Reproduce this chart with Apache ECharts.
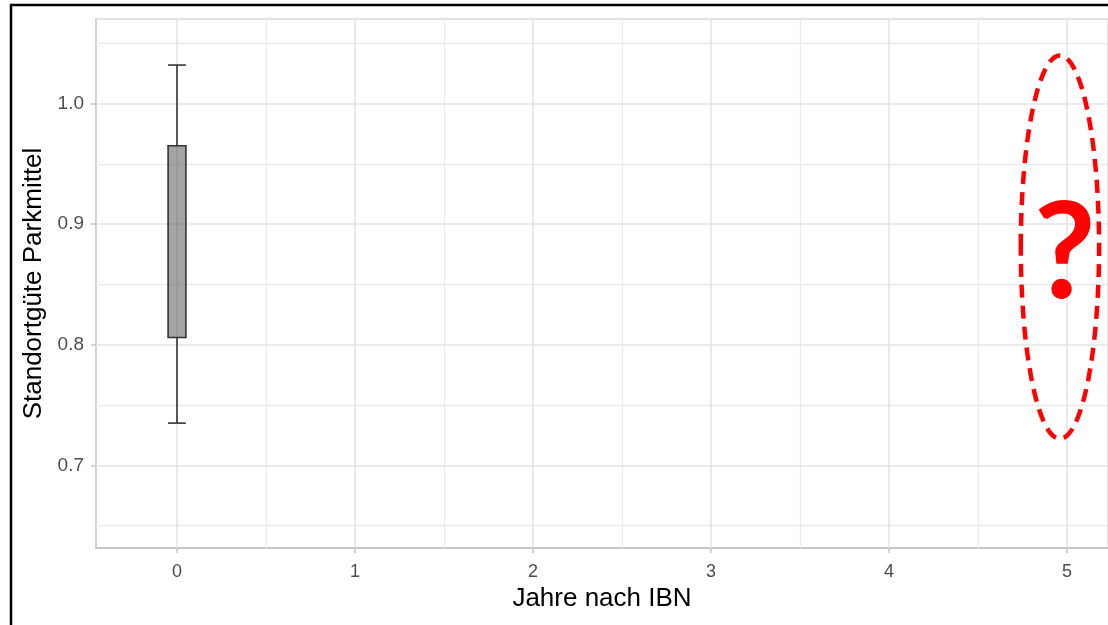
<!DOCTYPE html>
<html>
<head>
<meta charset="utf-8">
<script src="https://cdn.jsdelivr.net/npm/echarts@6.0.0/dist/echarts.min.js"></script>
<style>
  html, body { margin: 0; padding: 0; background: #fff; }
  #main { width: 1108px; height: 625px; }
</style>
</head>
<body>
<div id="main"></div>
<script>
// ticks and grid lines
var xTicks = [0, 1, 2, 3, 4, 5];
var xMinor = [0.5, 1.5, 2.5, 3.5, 4.5];
var yTicks = [0.7, 0.8, 0.9, 1.0];
var yMinor = [0.65, 0.75, 0.85, 0.95, 1.05];

// boxplot for year 0
var years = [0];
var whiskerLow = [0.735];
var q1 = [0.806];
var q3 = [0.965];
var whiskerHigh = [1.032];

// the "?" marker for year 5 (top of the text box, top and bottom of the ring)
var askYear = [4.96];
var askTextTop = [0.9306];
var askTop = [1.04];
var askBottom = [0.722];

var boxData = years.map(function (y, i) {
  return [y, whiskerLow[i], q1[i], q3[i], whiskerHigh[i]];
});
var askData = askYear.map(function (y, i) {
  return [y, askTextTop[i], askTop[i], askBottom[i]];
});

var gridColor = '#e4e4e4';
var minorColor = '#ebebeb';
var font = '"Liberation Sans", Arial, sans-serif';

function gridLines(vals, key, color, width) {
  return vals.map(function (v) {
    var o = { lineStyle: { color: color, width: width, type: 'solid' } };
    o[key] = v;
    return o;
  });
}

var myChart = echarts.init(document.getElementById('main'));
myChart.setOption({
  animation: false,
  backgroundColor: '#fff',
  grid: {
    left: 96, top: 19, right: 0, bottom: 77,
    show: true, borderColor: '#d9d9d9', borderWidth: 1.5
  },
  graphic: [{
    type: 'rect',
    shape: { x: 11, y: 5, width: 1200, height: 700 },
    style: { fill: 'none', stroke: '#000', lineWidth: 2.5 },
    z: 100
  }],
  xAxis: {
    type: 'value',
    min: -0.455,
    max: 5.23,
    name: 'Jahre nach IBN',
    nameLocation: 'middle',
    nameGap: 38,
    nameTextStyle: { fontFamily: font, fontSize: 26, color: '#000' },
    axisLine: { onZero: false, lineStyle: { color: '#c6c6c6', width: 2 } },
    axisTick: { show: true, length: 5, customValues: xTicks, lineStyle: { color: '#c6c6c6', width: 1.5 } },
    axisLabel: { customValues: xTicks, fontFamily: font, fontSize: 18, color: '#4d4d4d', margin: 15 },
    splitLine: { show: false }
  },
  yAxis: {
    type: 'value',
    min: 0.6314,
    max: 1.0702,
    name: 'Standortgüte Parkmittel',
    nameLocation: 'middle',
    nameRotate: 90,
    nameGap: 44,
    nameTextStyle: { fontFamily: font, fontSize: 26, color: '#000' },
    axisLine: { show: true, onZero: false, lineStyle: { color: '#cfcfcf', width: 1.5 } },
    axisTick: { show: true, length: 5, customValues: yTicks, lineStyle: { color: '#c6c6c6', width: 1.5 } },
    axisLabel: {
      customValues: yTicks, fontFamily: font, fontSize: 19, color: '#4d4d4d', margin: 12,
      formatter: function (v) { return v.toFixed(1); }
    },
    splitLine: { show: false }
  },
  series: [{
    type: 'custom',
    name: 'box',
    data: boxData,
    z: 5,
    markLine: {
      silent: true,
      symbol: 'none',
      label: { show: false },
      z: 1,
      data: []
        .concat(gridLines(yMinor, 'yAxis', minorColor, 1.3))
        .concat(gridLines(xMinor, 'xAxis', minorColor, 1.3))
        .concat(gridLines(yTicks, 'yAxis', gridColor, 1.6))
        .concat(gridLines(xTicks, 'xAxis', gridColor, 1.6))
    },
    renderItem: function (params, api) {
      var x = api.value(0);
      var half = api.size([0.1, 0])[0] / 2;
      var pLow = api.coord([x, api.value(1)]);
      var pQ1 = api.coord([x, api.value(2)]);
      var pQ3 = api.coord([x, api.value(3)]);
      var pHigh = api.coord([x, api.value(4)]);
      var ls = { stroke: '#333', lineWidth: 1.6 };
      return {
        type: 'group',
        children: [
          { type: 'line', shape: { x1: pHigh[0], y1: pHigh[1], x2: pQ3[0], y2: pQ3[1] }, style: ls },
          { type: 'line', shape: { x1: pQ1[0], y1: pQ1[1], x2: pLow[0], y2: pLow[1] }, style: ls },
          { type: 'line', shape: { x1: pHigh[0] - half, y1: pHigh[1], x2: pHigh[0] + half, y2: pHigh[1] }, style: ls },
          { type: 'line', shape: { x1: pLow[0] - half, y1: pLow[1], x2: pLow[0] + half, y2: pLow[1] }, style: ls },
          {
            type: 'rect',
            shape: { x: pQ3[0] - half, y: pQ3[1], width: half * 2, height: pQ1[1] - pQ3[1] },
            style: { fill: 'rgba(80,80,80,0.52)', stroke: '#333', lineWidth: 1.6 }
          }
        ]
      };
    }
  }, {
    type: 'custom',
    name: 'ask',
    data: askData,
    z: 10,
    clip: false,
    renderItem: function (params, api) {
      var x = api.value(0);
      var t = api.coord([x, api.value(1)]);
      var top = api.coord([x, api.value(2)]);
      var bot = api.coord([x, api.value(3)]);
      var rx = api.size([0.22, 0])[0];
      return {
        type: 'group',
        children: [{
          type: 'ellipse',
          shape: { cx: t[0], cy: (top[1] + bot[1]) / 2, rx: rx, ry: (bot[1] - top[1]) / 2 },
          style: { fill: 'none', stroke: '#ff0000', lineWidth: 4.5, lineDash: [13, 8] }
        }, {
          type: 'text',
          style: {
            text: '?', x: t[0] + 5, y: t[1], fill: '#ff0000',
            font: 'bold 134px Lato, "Liberation Sans", sans-serif',
            align: 'center', verticalAlign: 'top'
          }
        }]
      };
    }
  }]
});
window.addEventListener('resize', function () { myChart.resize(); });
</script>
</body>
</html>
